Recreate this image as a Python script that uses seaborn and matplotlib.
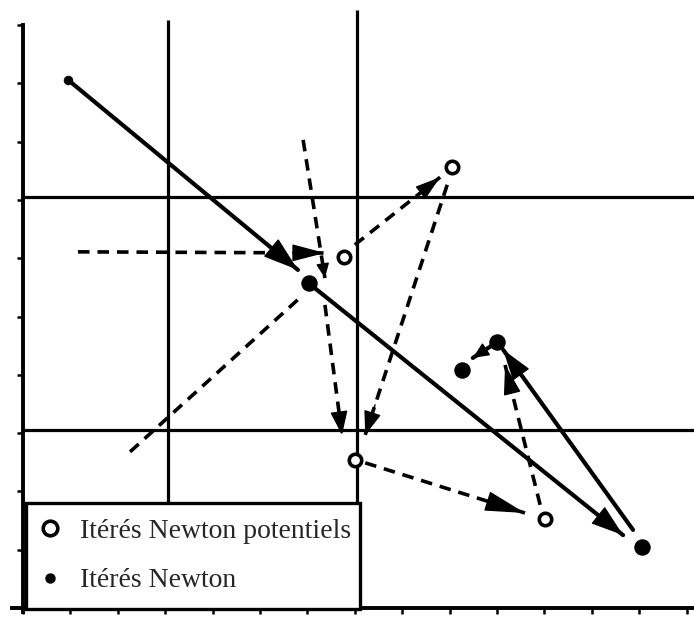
import matplotlib
matplotlib.use("Agg")
import matplotlib.pyplot as plt
from matplotlib.lines import Line2D
import seaborn as sns

# Newton iterates (filled dots), first one is the starting point
newton_x = [0.95, 6.03, 13.06, 10.00, 9.26]
newton_y = [9.06, 5.57, 1.05, 4.56, 4.08]

# potential Newton iterates (open circles)
potential_x = [6.77, 9.05, 7.00, 11.01]
potential_y = [6.02, 7.56, 2.54, 1.53]

# reference lines
grid_x = [3.05, 7.05]
grid_x_top = [10.09, 10.26]
grid_y = [3.05, 7.05]

# solid arrows (Newton steps)
solid_x0 = [0.95, 6.03, 12.87, 10.00]
solid_y0 = [9.06, 5.57, 1.34, 4.56]
solid_x1 = [5.80, 12.66, 10.13, 9.49]
solid_y1 = [5.80, 1.25, 4.43, 4.29]

# dashed arrows (candidate steps)
dash_x0 = [1.16, 5.91, 7.00, 8.95, 6.37, 7.22, 10.91]
dash_y0 = [6.11, 8.03, 6.23, 7.26, 5.20, 2.49, 1.77]
dash_x1 = [6.37, 6.37, 8.80, 7.22, 6.73, 10.59, 10.17]
dash_y1 = [6.09, 5.66, 7.39, 2.97, 2.97, 1.63, 4.17]

# dashed segment without head
plain_x = [2.26, 5.84]
plain_y = [2.68, 5.32]

labels = ["Itérés Newton potentiels", "Itérés Newton"]

sns.set_style("white")
plt.rcParams["font.family"] = ["Liberation Serif", "DejaVu Serif"]

fig = plt.figure(figsize=(6.94, 6.22), dpi=100)
ax = fig.add_axes([0, 0, 1, 1])
ax.set_xlim(-0.485, 14.156)
ax.set_ylim(-0.24, 10.43)

DASH = (0, (3.2, 2.2))

# grid lines
ax.vlines(grid_x, 0, grid_x_top, color="black", lw=2.3)
ax.hlines(grid_y, 0, 14.156, color="black", lw=2.3)


def head(x0, y0, x1, y1, hl, hw):
    # solid filled arrow head at (x1, y1)
    bx = x1 - 0.12 * (x1 - x0)
    by = y1 - 0.12 * (y1 - y0)
    ax.annotate("", xy=(x1, y1), xytext=(bx, by),
                arrowprops=dict(arrowstyle=f"-|>,head_length={hl},head_width={hw}",
                                mutation_scale=10, lw=1.0, color="black",
                                shrinkA=0, shrinkB=0))


# solid arrows
solid_heads = [(2.3, 0.75), (2.1, 0.7), (2.0, 0.65), (1.0, 0.45)]
for x0, y0, x1, y1, (hl, hw) in zip(solid_x0, solid_y0, solid_x1, solid_y1, solid_heads):
    ax.plot([x0, x1], [y0, y1], color="black", lw=3.0, solid_capstyle="round")
    head(x0, y0, x1, y1, hl, hw)

# dashed arrows
dash_heads = [(2.1, 0.55), (0.9, 0.4), (1.6, 0.5), (1.5, 0.55), (1.5, 0.55), (2.6, 0.65), (1.9, 0.55)]
for x0, y0, x1, y1, (hl, hw) in zip(dash_x0, dash_y0, dash_x1, dash_y1, dash_heads):
    ax.plot([x0, x1], [y0, y1], color="black", lw=2.6, linestyle=DASH)
    head(x0, y0, x1, y1, hl, hw)

sns.lineplot(x=plain_x, y=plain_y, color="black", lw=2.6, linestyle=DASH, ax=ax)

# points
sns.scatterplot(x=potential_x, y=potential_y, s=80, facecolor="white",
                edgecolor="black", linewidth=2.6, zorder=5, ax=ax)
sns.scatterplot(x=newton_x[1:], y=newton_y[1:], s=120, color="black",
                edgecolor="black", zorder=5, ax=ax)
sns.scatterplot(x=newton_x[:1], y=newton_y[:1], s=40, color="black",
                edgecolor="black", zorder=5, ax=ax)

# axes
for side in ["top", "right"]:
    ax.spines[side].set_visible(False)
ax.spines["left"].set_position(("data", 0))
ax.spines["bottom"].set_position(("data", 0))
ax.spines["left"].set_bounds(-0.07, 10.0)
ax.spines["bottom"].set_bounds(-0.23, 14.156)
for side in ["left", "bottom"]:
    ax.spines[side].set_linewidth(2.8)
    ax.spines[side].set_color("black")
ax.set_xticks(range(15))
ax.set_yticks(range(11))
ax.tick_params(bottom=True, left=True, direction="out", length=4.5, width=1.8,
               color="black", labelbottom=False, labelleft=False)
ax.set_xlabel("")
ax.set_ylabel("")

# legend
handles = [
    Line2D([], [], marker="o", ls="none", ms=10.5, mfc="white", mec="black", mew=2.6),
    Line2D([], [], marker="o", ls="none", ms=6.5, mfc="black", mec="black"),
]
leg = ax.legend(handles, labels, loc="lower left", mode="expand",
                bbox_to_anchor=(0.0375, 0.0209, 0.481, 0.170),
                bbox_transform=fig.transFigure, borderaxespad=0,
                fontsize=20, frameon=True, fancybox=False, framealpha=1,
                borderpad=0.56, labelspacing=0.87, handlelength=0.6,
                handletextpad=0.78)
leg.get_frame().set_edgecolor("black")
leg.get_frame().set_linewidth(2.4)
leg.set_zorder(10)

fig.savefig("out.png", dpi=100, facecolor="white")
